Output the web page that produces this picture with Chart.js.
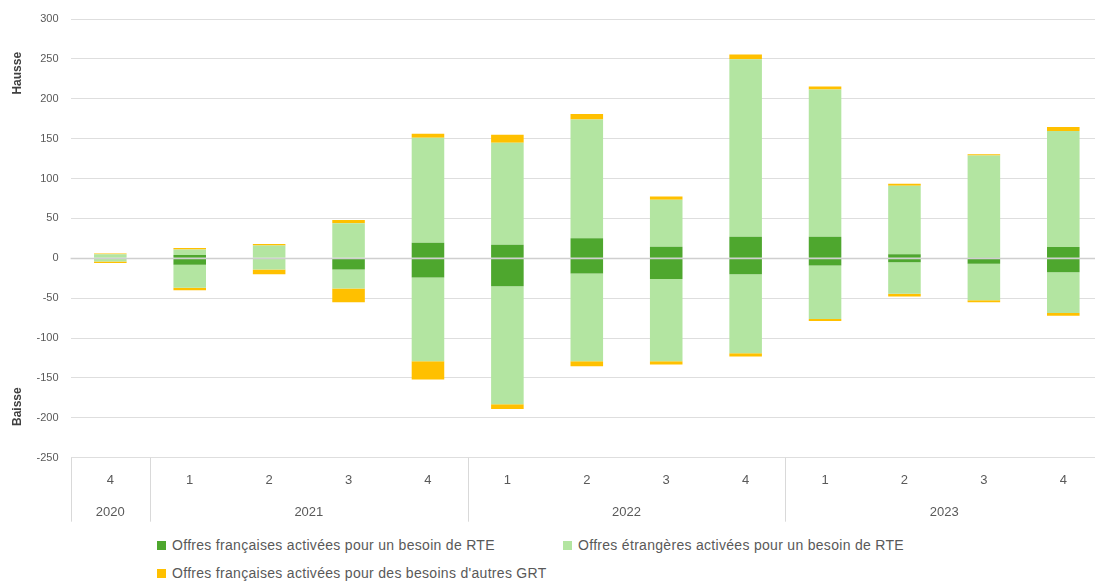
<!DOCTYPE html>
<html lang="fr">
<head>
<meta charset="utf-8">
<script src="https://cdn.jsdelivr.net/npm/chart.js@4/dist/chart.umd.min.js"></script>
<style>
  html, body { margin: 0; padding: 0; background: #fff; overflow: hidden; }
  #wrap { position: relative; width: 1103px; height: 530px; }
  #legend {
    position: absolute; left: 157px; top: 536px;
    display: grid; grid-template-columns: 406px auto; row-gap: 10px;
    font: 14px 'Liberation Sans', Arial, sans-serif; letter-spacing: 0.3px; color: #595959;
  }
  #legend .item { display: flex; align-items: center; height: 18px; white-space: nowrap; }
  #legend .box { width: 9px; height: 9px; margin-right: 6px; }
</style>
</head>
<body>
<div id="wrap"><canvas id="chart"></canvas></div>
<div id="legend"></div>
<script>
// trimestres et années (axe x à deux niveaux)
const quarters = ['4', '1', '2', '3', '4', '1', '2', '3', '4', '1', '2', '3', '4'];
const years = ['2020', '2021', '2022', '2023'];
const yearSpans = [1, 4, 4, 4];

const seriesLabels = [
    'Offres françaises activées pour un besoin de RTE',
    'Offres étrangères activées pour un besoin de RTE',
    'Offres françaises activées pour des besoins d\'autres GRT'
];
const seriesColors = ['#4ea72e', '#b3e5a1', '#ffc000'];

// hausse (valeurs positives) / baisse (valeurs négatives)
const frRteUp   = [0, 4, 0, 0, 19.5, 17, 25, 14.5, 27, 27, 5, 1, 14];
const frRteDown = [0, -8, 0, -14, -24, -35, -19, -26, -20, -9, -5, -7, -17.5];
const etrRteUp   = [5, 7, 16, 44, 131.5, 128, 149, 59, 222.5, 184.5, 86, 128, 145.5];
const etrRteDown = [-4, -29, -14, -24, -105, -148, -110, -103, -99, -67, -39.5, -45.5, -51];
const grtUp   = [1, 2, 2, 4, 5, 10, 7, 4, 6, 4, 2.5, 1.5, 5];
const grtDown = [-2, -3, -6, -17, -23, -6, -6.5, -4, -4, -2.5, -3.5, -2.5, -3.5];

const yTicks = [300, 250, 200, 150, 100, 50, 0, -50, -100, -150, -200, -250];

const FONT = "'Liberation Sans', Arial, sans-serif";
Chart.defaults.font.family = FONT;
Chart.defaults.color = '#595959';

function ds(label, data, color, showInLegend) {
    return {
        label: label,
        data: data,
        backgroundColor: color,
        borderWidth: 0,
        stack: 'all',
        barPercentage: 0.41,
        categoryPercentage: 1,
        inLegend: showInLegend
    };
}

const datasets = [
    ds(seriesLabels[0], frRteUp, seriesColors[0], true),
    ds(seriesLabels[0], frRteDown, seriesColors[0], false),
    ds(seriesLabels[1], etrRteUp, seriesColors[1], true),
    ds(seriesLabels[1], etrRteDown, seriesColors[1], false),
    ds(seriesLabels[2], grtUp, seriesColors[2], true),
    ds(seriesLabels[2], grtDown, seriesColors[2], false)
];

// ligne du zéro par-dessus les barres
const zeroLine = {
    id: 'zeroLine',
    afterDatasetsDraw(chart) {
        const { ctx, chartArea, scales } = chart;
        const y = Math.round(scales.y.getPixelForValue(0)) + 0.5;
        ctx.save();
        ctx.strokeStyle = '#cfcfcf';
        ctx.lineWidth = 1.5;
        ctx.beginPath();
        ctx.moveTo(chartArea.left, y);
        ctx.lineTo(chartArea.right, y);
        ctx.stroke();
        ctx.restore();
    }
};

// années sous les trimestres + séparateurs + titres Hausse/Baisse
const yearAxis = {
    id: 'yearAxis',
    afterDraw(chart) {
        const { ctx, chartArea, scales } = chart;
        const x = scales.x, y = scales.y;
        const step = x.width / quarters.length;
        const top = chartArea.bottom;
        ctx.save();
        ctx.strokeStyle = '#d9d9d9';
        ctx.lineWidth = 1;
        ctx.fillStyle = '#595959';
        ctx.font = '13px ' + FONT;
        ctx.textAlign = 'center';
        ctx.textBaseline = 'middle';
        let idx = 0;
        years.forEach((yr, i) => {
            const left = x.left + idx * step;
            const right = left + yearSpans[i] * step;
            const lx = Math.round(left) + 0.5;
            ctx.beginPath();
            ctx.moveTo(lx, top);
            ctx.lineTo(lx, top + 64);
            ctx.stroke();
            ctx.fillText(yr, (left + right) / 2, top + 55);
            idx += yearSpans[i];
        });
        ctx.font = 'bold 12px ' + FONT;
        ctx.fillStyle = '#404040';
        [['Hausse', 232], ['Baisse', -186]].forEach(([t, v]) => {
            ctx.save();
            ctx.translate(18, y.getPixelForValue(v));
            ctx.rotate(-Math.PI / 2);
            ctx.fillText(t, 0, 0);
            ctx.restore();
        });
        ctx.restore();
    }
};

const chart = new Chart(document.getElementById('chart'), {
    type: 'bar',
    data: { labels: quarters, datasets: datasets },
    options: {
        responsive: true,
        maintainAspectRatio: false,
        animation: false,
        layout: { padding: { top: 19, left: 0, right: 0, bottom: 0 } },
        plugins: {
            legend: { display: false },
            tooltip: { enabled: false }
        },
        scales: {
            x: {
                stacked: true,
                grid: { display: false, drawTicks: false },
                border: { display: false },
                ticks: { padding: 15, font: { size: 13 }, color: '#595959', maxRotation: 0 },
                afterFit(scale) { scale.height = 72.3; }
            },
            y: {
                stacked: true,
                min: -250,
                max: 300,
                afterBuildTicks(scale) { scale.ticks = yTicks.map(v => ({ value: v })); },
                grid: { color: '#dedede', lineWidth: 1, drawTicks: false },
                border: { display: false },
                ticks: { padding: 12, font: { size: 11 }, color: '#595959' },
                afterFit(scale) { scale.width = 70.6; }
            }
        }
    },
    plugins: [zeroLine, yearAxis]
});

// légende HTML (disposition Excel)
const legendEl = document.getElementById('legend');
chart.data.datasets.filter(d => d.inLegend).forEach(d => {
    const item = document.createElement('div');
    item.className = 'item';
    const box = document.createElement('span');
    box.className = 'box';
    box.style.background = d.backgroundColor;
    const txt = document.createElement('span');
    txt.textContent = d.label;
    item.appendChild(box);
    item.appendChild(txt);
    legendEl.appendChild(item);
});
</script>
</body>
</html>
